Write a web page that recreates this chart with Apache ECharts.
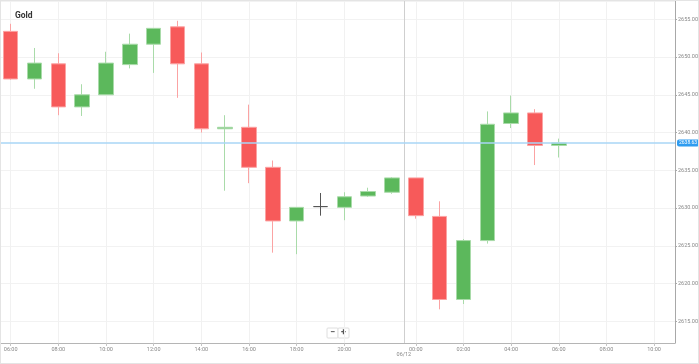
<!DOCTYPE html>
<html>
<head>
<meta charset="utf-8">
<script src="https://cdn.jsdelivr.net/npm/echarts@6/dist/echarts.min.js"></script>
<style>
html,body{margin:0;padding:0;background:#fff;}
#wrap{width:697px;height:362px;border:1px solid #e4e4e4;}
#chart{width:697px;height:362px;}
</style>
</head>
<body>
<div id="wrap"><div id="chart"></div></div>
<script>
// ---- data (hourly candles; 22:00 hour absent = daily break) ----
const seriesName = 'Gold';
const categories = ['06:00','07:00','08:00','09:00','10:00','11:00','12:00','13:00','14:00','15:00',
  '16:00','17:00','18:00','19:00','20:00','21:00','23:00','00:00','01:00','02:00','03:00','04:00',
  '05:00','06:00','07:00','08:00','09:00','10:00'];
const openVals  = [2653.4,2647.1,2649.1,2643.4,2645.0,2649.0,2651.7,2654.0,2649.1,2640.5,
  2640.7,2635.4,2628.3,2630.2,2630.1,2631.6,2632.1,2634.0,2628.9,2617.9,2625.7,2641.2,2642.6,2638.3];
const closeVals = [2647.1,2649.2,2643.4,2645.0,2649.2,2651.7,2653.8,2649.1,2640.5,2640.7,
  2635.4,2628.3,2630.1,2630.2,2631.5,2632.2,2634.0,2629.0,2617.9,2625.7,2641.1,2642.6,2638.3,2638.63];
const lowVals   = [2647.0,2645.8,2642.3,2642.2,2645.0,2648.5,2647.9,2644.6,2640.0,2632.3,
  2633.3,2624.1,2623.9,2629.0,2628.4,2631.5,2631.9,2628.6,2616.6,2617.3,2625.3,2640.6,2635.7,2636.7];
const highVals  = [2654.4,2651.2,2650.5,2646.4,2650.7,2653.1,2653.8,2654.8,2650.6,2642.3,
  2643.7,2636.3,2630.1,2632.0,2632.1,2632.7,2634.1,2634.0,2630.9,2625.9,2642.8,2644.9,2643.1,2639.2];
const currentPrice = 2638.63;
const dayLabel = '06/12';
const yMin = 2612.14, yMax = 2657.42;
const xMin = -0.407, xMax = 27.877;

// ---- derived ----
const candleData = openVals.map((o, i) => [i, o, closeVals[i], lowVals[i], highVals[i]]);
const labelIdx = categories.map((c, i) => (parseInt(c, 10) % 2 === 0 ? i : null)).filter(v => v !== null);
const dayBoundary = categories.indexOf('00:00') - 0.5;
const FONT = 'Roboto, "Noto Sans", sans-serif';

const chart = echarts.init(document.getElementById('chart'));
chart.setOption({
  animation: false,
  backgroundColor: '#fff',
  title: {
    text: seriesName, left: 9, top: 5,
    textStyle: { fontSize: 8.5, fontWeight: 'bold', color: '#333', fontFamily: FONT }
  },
  grid: { left: 0, right: 23, top: 0, bottom: 20, containLabel: false, outerBoundsMode: 'none' },
  xAxis: {
    type: 'value', min: xMin, max: xMax, scale: true,
    axisLine: { show: true, onZero: false, lineStyle: { color: '#b5b5b5', width: 1 } },
    axisTick: { show: true, length: 3, customValues: labelIdx, lineStyle: { color: '#c4c4c4' } },
    axisLabel: {
      customValues: labelIdx, fontSize: 5.5, color: '#888', margin: 4, fontFamily: FONT,
      formatter: v => categories[Math.round(v)] || ''
    },
    splitLine: { show: true, lineStyle: { color: '#f1f1f1', width: 1 } }
  },
  yAxis: {
    type: 'value', position: 'right', min: yMin, max: yMax, splitNumber: 9, scale: true,
    axisLine: { show: true, onZero: false, lineStyle: { color: '#a8a8a8', width: 1 } },
    axisTick: { show: true, length: 2, lineStyle: { color: '#a8a8a8' } },
    axisLabel: {
      fontSize: 5.5, color: '#888', margin: 3, fontFamily: FONT,
      showMinLabel: false, showMaxLabel: false,
      formatter: v => v.toFixed(2)
    },
    splitLine: { show: true, lineStyle: { color: '#f2f2f2', width: 1 } }
  },
  graphic: [
    { type: 'rect', shape: { x: 326, y: 327, width: 11, height: 10, r: 1 }, style: { fill: '#fff', stroke: '#dedede', lineWidth: 1 } },
    { type: 'rect', shape: { x: 337, y: 327, width: 11, height: 10, r: 1 }, style: { fill: '#fff', stroke: '#dedede', lineWidth: 1 } },
    { type: 'text', x: 331.5, y: 332, style: { text: '−', fill: '#555', align: 'center', verticalAlign: 'middle', font: 'bold 9px Roboto, sans-serif' } },
    { type: 'text', x: 342.5, y: 332, style: { text: '+', fill: '#555', align: 'center', verticalAlign: 'middle', font: 'bold 9px Roboto, sans-serif' } }
  ],
  series: [{
    name: seriesName,
    type: 'candlestick',
    data: candleData,
    encode: { x: 0, y: [1, 2, 3, 4] },
    barWidth: 15,
    itemStyle: {
      color: '#5cb85c', color0: '#f75a5a',
      borderColor: '#a9dba9', borderColor0: '#fba3a3',
      borderColorDoji: '#555', borderWidth: 1
    },
    markLine: {
      silent: true, symbol: 'none', animation: false,
      data: [
        {
          xAxis: dayBoundary,
          lineStyle: { color: '#cfcfcf', width: 1, type: 'solid' },
          label: { show: true, position: 'start', formatter: dayLabel, fontSize: 5.5, color: '#888', distance: 9, fontFamily: FONT }
        },
        {
          yAxis: currentPrice,
          lineStyle: { color: '#a9d6f6', width: 1.5, type: 'solid' },
          label: {
            show: true, position: 'end', formatter: currentPrice.toFixed(2),
            fontSize: 5, color: '#fff', backgroundColor: '#2f9cf0', padding: [1, 2], borderRadius: 2,
            distance: 2, fontFamily: FONT
          }
        }
      ]
    }
  }]
});
</script>
</body>
</html>
